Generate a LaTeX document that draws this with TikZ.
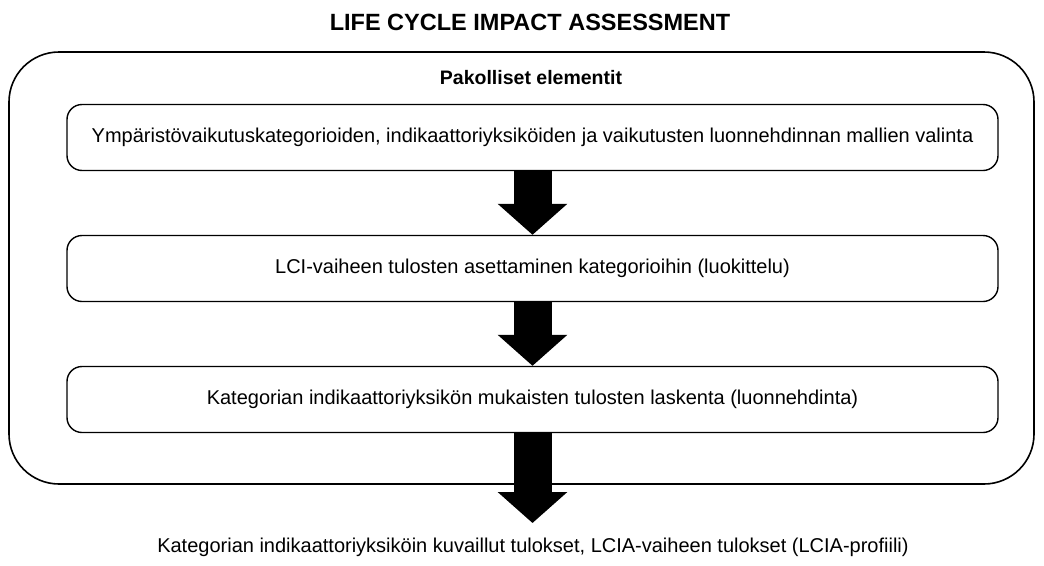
\documentclass[tikz,border=0pt]{standalone}
\usepackage{fontspec}
\setmainfont{Liberation Sans}
\usetikzlibrary{arrows.meta}
\begin{document}
\begin{tikzpicture}[x=1pt,y=-1pt,
  outerbox/.style={draw, line width=1.6pt, rounded corners=50pt, minimum width=1025pt, minimum height=432pt, inner sep=0pt},
  stepbox/.style={draw, line width=1.4pt, rounded corners=15pt, minimum width=931pt, minimum height=66pt, inner sep=0pt, font=\fontsize{20}{24}\selectfont},
  bigarrow/.style={line width=38pt, -{Triangle[length=31pt, width=68pt]}},
  titletext/.style={font=\fontsize{23.5}{28}\selectfont\bfseries},
  labeltext/.style={font=\fontsize{19.5}{23}\selectfont\bfseries},
  plaintext/.style={font=\fontsize{20}{24}\selectfont}]
\useasboundingbox (0,0) rectangle (1044,565);
\node[titletext] (title) at (530,22) {LIFE CYCLE IMPACT ASSESSMENT};
\node[outerbox] (outer) at (521.5,268) {};
\node[labeltext] (label) at (531,78) {Pakolliset elementit};
\node[stepbox] (s1) at (532.5,137.5) {Ympäristövaikutuskategorioiden, indikaattoriyksiköiden ja vaikutusten luonnehdinnan mallien valinta};
\node[stepbox] (s2) at (532.5,268.5) {LCI-vaiheen tulosten asettaminen kategorioihin (luokittelu)};
\node[stepbox] (s3) at (532.5,399.5) {Kategorian indikaattoriyksikön mukaisten tulosten laskenta (luonnehdinta)};
\coordinate (tip) at (532.5,523);
\node[plaintext] (result) at (533,547) {Kategorian indikaattoriyksiköin kuvaillut tulokset, LCIA-vaiheen tulokset (LCIA-profiili)};
\draw[bigarrow] (s1.south) -- (s2.north);
\draw[bigarrow] (s2.south) -- (s3.north);
\draw[bigarrow] (s3.south) -- (tip);
\end{tikzpicture}
\end{document}
